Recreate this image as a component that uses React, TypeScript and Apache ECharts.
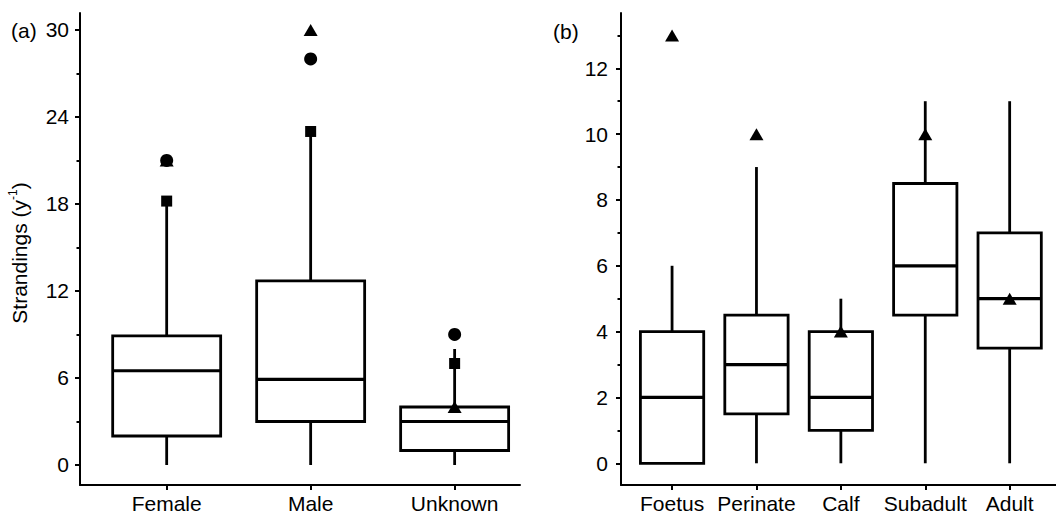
import React, { useEffect, useRef } from "react";
import * as echarts from "echarts";

// Panel (a): strandings by sex
const sexCats = ["Female", "Male", "Unknown"];
const sexLow = [0, 0, 0];
const sexQ1 = [2, 3, 1];
const sexMed = [6.5, 5.9, 3];
const sexQ3 = [8.9, 12.7, 4];
const sexHigh = [18, 23, 8];
const sexSquare = [18.2, 23, 7];
const sexCircle = [21, 28, 9];
const sexTriangle = [21, 30, 4];
const sexTicks = [0, 6, 12, 18, 24, 30];
const sexMinorTicks = [3, 9, 15, 21, 27];

// Panel (b): strandings by age class
const ageCats = ["Foetus", "Perinate", "Calf", "Subadult", "Adult"];
const ageLow = [0, 0, 0, 0, 0];
const ageQ1 = [0, 1.5, 1, 4.5, 3.5];
const ageMed = [2, 3, 2, 6, 5];
const ageQ3 = [4, 4.5, 4, 8.5, 7];
const ageHigh = [6, 9, 5, 11, 11];
const ageTriangle = [13, 10, 4, 10, 5];
const ageTicks = [0, 2, 4, 6, 8, 10, 12];
const ageMinorTicks = [1, 3, 5, 7, 9, 11, 13];

const FONT = "'Liberation Sans', Arial, sans-serif";
const FS = 21;
const BOX_W = 0.75;
const LW = 2.8;

function boxSeries(xi: number, yi: number, low: number[], q1: number[], med: number[], q3: number[], high: number[]) {
  return {
    type: "custom",
    xAxisIndex: xi,
    yAxisIndex: yi,
    z: 2,
    data: low.map((l, i) => [i, l, q1[i], med[i], q3[i], high[i]]),
    encode: { x: 0, y: [1, 2, 3, 4, 5] },
    renderItem: (params: any, api: any) => {
      const i = api.value(0);
      const pLow = api.coord([i, api.value(1)]);
      const pQ1 = api.coord([i, api.value(2)]);
      const pMed = api.coord([i, api.value(3)]);
      const pQ3 = api.coord([i, api.value(4)]);
      const pHigh = api.coord([i, api.value(5)]);
      const half = api.size([BOX_W, 0])[0] / 2;
      const cx = pQ1[0];
      const ls = { stroke: "#000", lineWidth: LW, fill: "none" };
      const children: any[] = [];
      if (pLow[1] - pQ1[1] > 0.5) {
        children.push({ type: "line", shape: { x1: cx, y1: pQ1[1], x2: cx, y2: pLow[1] }, style: ls });
      }
      if (pQ3[1] - pHigh[1] > 0.5) {
        children.push({ type: "line", shape: { x1: cx, y1: pHigh[1], x2: cx, y2: pQ3[1] }, style: ls });
      }
      children.push({
        type: "rect",
        shape: { x: cx - half, y: pQ3[1], width: 2 * half, height: pQ1[1] - pQ3[1] },
        style: { fill: "#fff", stroke: "#000", lineWidth: LW },
      });
      children.push({
        type: "line",
        shape: { x1: cx - half, y1: pMed[1], x2: cx + half, y2: pMed[1] },
        style: { stroke: "#000", lineWidth: 3.2, fill: "none" },
      });
      return { type: "group", children };
    },
  };
}

function scatter(xi: number, yi: number, vals: number[], symbol: string, size: any) {
  return {
    type: "scatter",
    xAxisIndex: xi,
    yAxisIndex: yi,
    z: 5,
    symbol,
    symbolSize: size,
    itemStyle: { color: "#000", opacity: 1 },
    data: vals.map((v, i) => [i, v]),
  };
}

function xAxisDef(grid: number, cats: string[], min: number, max: number) {
  const idx = cats.map((_, i) => i);
  return {
    type: "value",
    gridIndex: grid,
    min,
    max,
    splitLine: { show: false },
    axisLine: { show: true, onZero: false, lineStyle: { color: "#000", width: 2 } },
    axisTick: { show: true, customValues: idx, length: 5, lineStyle: { color: "#000", width: 2 } },
    axisLabel: {
      show: true,
      customValues: idx,
      formatter: (v: number) => cats[Math.round(v)] ?? "",
      fontSize: FS,
      fontFamily: FONT,
      color: "#000",
      margin: 8,
    },
  };
}

function yAxisDef(grid: number, min: number, max: number, ticks: number[], margin: number) {
  return {
    type: "value",
    gridIndex: grid,
    min,
    max,
    position: "left",
    splitLine: { show: false },
    axisLine: { show: true, onZero: false, lineStyle: { color: "#000", width: 2 } },
    axisTick: { show: true, customValues: ticks, length: 5, lineStyle: { color: "#000", width: 2 } },
    axisLabel: { show: true, customValues: ticks, fontSize: FS, fontFamily: FONT, color: "#000", margin },
  };
}

function yMinorDef(grid: number, min: number, max: number, ticks: number[]) {
  return {
    type: "value",
    gridIndex: grid,
    min,
    max,
    position: "left",
    offset: 0,
    splitLine: { show: false },
    axisLine: { show: false, onZero: false },
    axisTick: { show: true, customValues: ticks, length: 3.5, lineStyle: { color: "#000", width: 2 } },
    axisLabel: { show: false },
  };
}

export default function App() {
  const ref = useRef<HTMLDivElement>(null);
  useEffect(() => {
    if (!ref.current) return;
    const chart = echarts.init(ref.current, undefined, { renderer: "svg" });
    const option: any = {
      animation: false,
      backgroundColor: "#fff",
      textStyle: { fontFamily: FONT },
      grid: [
        { left: 80, top: 13, width: 440, height: 472 },
        { left: 621, top: 13, width: 435, height: 472 },
      ],
      xAxis: [xAxisDef(0, sexCats, -0.602, 2.454), xAxisDef(1, ageCats, -0.605, 4.549)],
      yAxis: [
        yAxisDef(0, -1.38, 31.17, sexTicks, 11),
        yMinorDef(0, -1.38, 31.17, sexMinorTicks),
        yAxisDef(1, -0.66, 13.68, ageTicks, 13),
        yMinorDef(1, -0.66, 13.68, ageMinorTicks),
      ],
      series: [
        boxSeries(0, 0, sexLow, sexQ1, sexMed, sexQ3, sexHigh),
        scatter(0, 0, sexSquare, "rect", 11),
        scatter(0, 0, sexCircle, "circle", 13),
        scatter(0, 0, sexTriangle, "triangle", [14, 12]),
        boxSeries(1, 2, ageLow, ageQ1, ageMed, ageQ3, ageHigh),
        scatter(1, 2, ageTriangle, "triangle", [14, 12]),
      ],
      graphic: [
        {
          type: "text",
          left: 11,
          top: 20,
          style: { text: "(a)", fontSize: FS, fontFamily: FONT, fill: "#000" },
        },
        {
          type: "text",
          left: 553,
          top: 21,
          style: { text: "(b)", fontSize: FS, fontFamily: FONT, fill: "#000" },
        },
        {
          type: "text",
          x: 19,
          y: 253,
          rotation: Math.PI / 2,
          style: {
            text: "{n|Strandings (y}{s|-1}{n|)}",
            align: "center",
            verticalAlign: "middle",
            fill: "#000",
            rich: {
              n: { fontSize: FS, fontFamily: FONT, fill: "#000", lineHeight: 25 },
              s: { fontSize: 12, fontFamily: FONT, fill: "#000", lineHeight: 15, verticalAlign: "top" },
            },
          },
        },
      ],
    };
    chart.setOption(option);
    return () => chart.dispose();
  }, []);
  return (
    <div
      ref={ref}
      style={{ position: "fixed", left: 0, top: 0, width: 1056, height: 514, background: "#fff" }}
    />
  );
}
